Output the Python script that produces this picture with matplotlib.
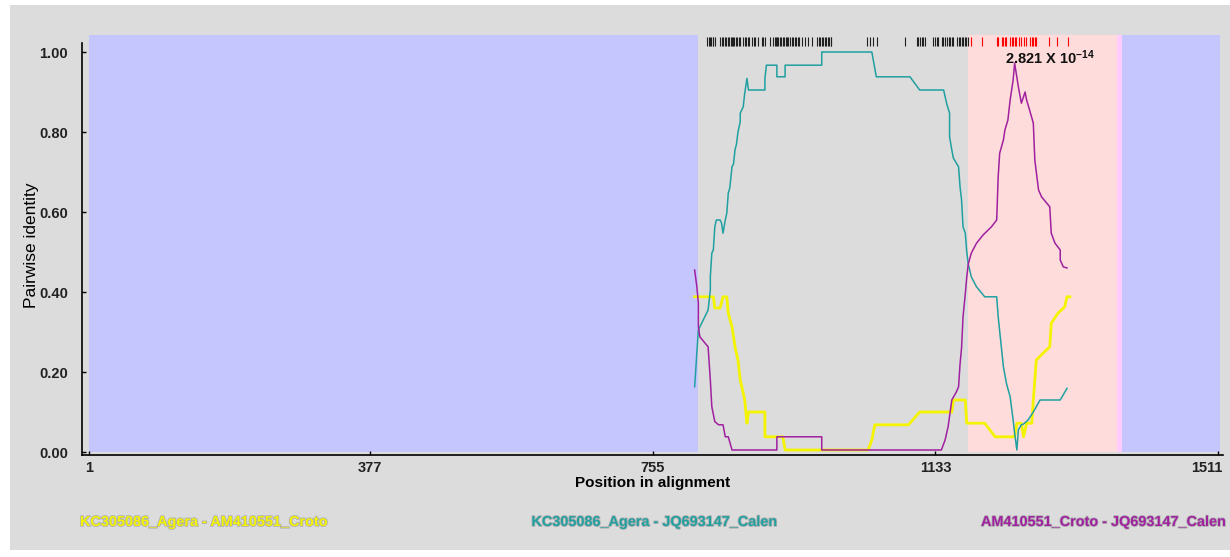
import matplotlib
matplotlib.use("Agg")
import matplotlib.pyplot as plt
from matplotlib.patches import Rectangle
import matplotlib.patheffects as pe
import matplotlib.transforms as mtransforms

plt.rcParams['font.family'] = ['Liberation Sans', 'DejaVu Sans']
plt.rcParams['mathtext.fontset'] = 'custom'
plt.rcParams['mathtext.bf'] = 'Liberation Sans:bold'
plt.rcParams['mathtext.rm'] = 'Liberation Sans:bold'
plt.rcParams['mathtext.default'] = 'bf'

# pairwise identity traces: (position in alignment, identity)
agera_croto = [(811, 0.388), (829, 0.388), (836, 0.388), (838, 0.36), (845, 0.36),
               (849, 0.388), (854, 0.388), (856, 0.347), (861, 0.313), (865, 0.263),
               (869, 0.23), (872, 0.18), (876, 0.147), (878, 0.13), (881, 0.072),
               (883, 0.10), (905, 0.10), (905, 0.038), (929, 0.038), (932, 0.005),
               (1043, 0.005), (1048, 0.03), (1052, 0.068), (1097, 0.068), (1112, 0.10),
               (1155, 0.10), (1157, 0.13), (1173, 0.13), (1175, 0.072), (1199, 0.072),
               (1213, 0.038), (1239, 0.038), (1242, 0.072), (1248, 0.072), (1251, 0.038),
               (1255, 0.072), (1262, 0.072), (1264, 0.13), (1266, 0.18), (1268, 0.23),
               (1277, 0.247), (1286, 0.263), (1288, 0.322), (1297, 0.347), (1306, 0.363),
               (1309, 0.388), (1313, 0.388)]

agera_calen = [(811, 0.163), (812, 0.19), (814, 0.25), (816, 0.305), (829, 0.355),
               (832, 0.405), (832, 0.438), (834, 0.497), (836, 0.505), (838, 0.563),
               (840, 0.58), (845, 0.58), (847, 0.572), (849, 0.547), (852, 0.58),
               (854, 0.597), (856, 0.647), (858, 0.66), (861, 0.713), (863, 0.72),
               (865, 0.755), (867, 0.77), (869, 0.80), (872, 0.826), (872, 0.847),
               (876, 0.863), (878, 0.897), (881, 0.934), (883, 0.905), (905, 0.905),
               (905, 0.934), (907, 0.967), (921, 0.967), (921, 0.938), (932, 0.938),
               (932, 0.967), (981, 0.967), (981, 1.0), (1048, 1.0), (1054, 0.938),
               (1099, 0.938), (1112, 0.905), (1144, 0.905), (1148, 0.872), (1152, 0.847),
               (1152, 0.788), (1155, 0.755), (1157, 0.735), (1164, 0.713), (1166, 0.663),
               (1168, 0.63), (1170, 0.563), (1173, 0.547), (1175, 0.50), (1177, 0.47),
               (1181, 0.438), (1188, 0.413), (1199, 0.388), (1215, 0.388), (1217, 0.338),
               (1224, 0.213), (1228, 0.172), (1233, 0.138), (1237, 0.08), (1239, 0.047),
               (1242, 0.005), (1244, 0.055), (1248, 0.068), (1251, 0.07), (1257, 0.08),
               (1264, 0.10), (1273, 0.13), (1300, 0.13), (1309, 0.159)]

croto_calen = [(811, 0.455), (814, 0.413), (816, 0.372), (816, 0.313), (818, 0.288),
               (825, 0.272), (829, 0.263), (832, 0.18), (834, 0.113), (838, 0.076),
               (843, 0.068), (849, 0.068), (852, 0.038), (856, 0.038), (861, 0.005),
               (921, 0.005), (921, 0.038), (981, 0.038), (981, 0.005), (1141, 0.005),
               (1146, 0.03), (1150, 0.063), (1155, 0.13), (1161, 0.15), (1164, 0.163),
               (1166, 0.22), (1168, 0.26), (1170, 0.338), (1173, 0.395), (1175, 0.438),
               (1177, 0.47), (1181, 0.497), (1188, 0.522), (1197, 0.543), (1208, 0.563),
               (1215, 0.58), (1217, 0.688), (1219, 0.747), (1224, 0.78), (1226, 0.805),
               (1230, 0.83), (1233, 0.88), (1237, 0.93), (1239, 0.972), (1244, 0.913),
               (1248, 0.872), (1253, 0.90), (1255, 0.88), (1259, 0.855), (1264, 0.822),
               (1266, 0.73), (1271, 0.655), (1275, 0.638), (1286, 0.613), (1288, 0.547),
               (1293, 0.522), (1300, 0.505), (1300, 0.48), (1304, 0.463), (1309, 0.46)]

series_names = ["KC305086_Agera - AM410551_Croto",
                "KC305086_Agera - JQ693147_Calen",
                "AM410551_Croto - JQ693147_Calen"]
series_colors = ["#f4f400", "#20a0a0", "#a020a0"]
series_widths = [2.0, 1.1, 1.1]

# informative sites along the top
black_sites = [827, 830, 832, 833, 835, 836, 838, 845, 847, 849, 851, 853, 855, 857,
               859, 861, 862, 864, 866, 868, 870, 872, 876, 878, 880, 882, 884, 888,
               890, 892, 896, 901, 903, 905, 912, 916, 918, 920, 921, 923, 925, 927,
               929, 931, 933, 934, 936, 938, 941, 943, 945, 947, 949, 951, 954, 959,
               963, 968, 975, 977, 979, 981, 983, 985, 987, 989, 991, 993, 994, 1041,
               1046, 1050, 1055, 1093, 1108, 1110, 1112, 1115, 1117, 1119, 1130, 1133,
               1135, 1137, 1142, 1143, 1146, 1148, 1151, 1153, 1155, 1157, 1162, 1164,
               1166, 1168, 1170, 1172, 1174, 1176]
red_sites = [1180, 1195, 1215, 1217, 1222, 1224, 1226, 1228, 1233, 1235, 1237, 1239,
             1241, 1245, 1248, 1252, 1254, 1260, 1262, 1264, 1266, 1268, 1285, 1296, 1310]

# background regions: (start, end, colour)
regions = [(1, 816, "#c6c6ff"), (816, 1177, "#dcdcdc"), (1177, 1376, "#ffdcdc"),
           (1376, 1383, "#ffccff"), (1383, 1514, "#c6c6ff")]

p_value = r"2.821 X 10$^{-14}$"
x_ticks = [1, 377, 755, 1133, 1511]
y_ticks = [0.0, 0.2, 0.4, 0.6, 0.8, 1.0]

fig = plt.figure(figsize=(12.3, 5.57), dpi=100, facecolor="white")
fig.add_artist(Rectangle((10 / 1230, 7 / 557), 1220 / 1230, 545 / 557,
                         transform=fig.transFigure, facecolor="#dcdcdc",
                         edgecolor="none", zorder=-10))
ax = fig.add_axes([82 / 1230, 102 / 557, 1141 / 1230, 420 / 557])
ax.set_facecolor("none")

ylo, yhi = -0.0075, 1.0425
ax.set_xlim(-8.4, 1517.7)
ax.set_ylim(ylo, yhi)

span_bottom = (0 - ylo) / (yhi - ylo)
for start, end, colour in regions:
    ax.axvspan(start, end, ymin=span_bottom, ymax=1, facecolor=colour,
               edgecolor="none", zorder=0)

ax.vlines(black_sites, 1.015, 1.038, colors="#202020", linewidth=0.8, zorder=2)
ax.vlines(red_sites, 1.015, 1.038, colors="#ff0000", linewidth=0.8, zorder=2)

for data, colour, lw in zip([agera_croto, agera_calen, croto_calen],
                            series_colors, series_widths):
    xs = [p for p, _ in data]
    ys = [v for _, v in data]
    ax.plot(xs, ys, color=colour, linewidth=lw, zorder=3)

ax.text(1226, 0.985, p_value, fontsize=10.5, fontweight="bold", ha="left",
        va="center", color="#111111", zorder=4)

for side in ["top", "right"]:
    ax.spines[side].set_visible(False)
ax.spines["left"].set_bounds(ylo, 1.022)
for side in ["left", "bottom"]:
    ax.spines[side].set_linewidth(1.2)

ax.set_xticks(x_ticks)
ax.set_xticklabels([str(t) for t in x_ticks])
ax.set_yticks(y_ticks)
ax.set_yticklabels(["%.2f" % t for t in y_ticks])
ax.tick_params(axis="both", direction="in", length=3, width=1)
ax.tick_params(axis="y", pad=10, labelsize=10.5)
ax.tick_params(axis="x", pad=4, labelsize=10.5)
for lab in ax.get_xticklabels() + ax.get_yticklabels():
    lab.set_fontweight("bold")
    lab.set_color("#222222")

# keep the last position label inside the figure
last = ax.get_xticklabels()[-1]
last.set_horizontalalignment("right")
last.set_transform(last.get_transform() +
                   mtransforms.ScaledTranslation(5 / 100, 0, fig.dpi_scale_trans))

ax.set_xlabel("Position in alignment", fontsize=11, fontweight="bold", labelpad=1)
ax.set_ylabel("Pairwise identity", fontsize=12.5, labelpad=0)

shadow = [pe.withStroke(linewidth=1.2, foreground="#b0b0b0")]
label_pos = [(80 / 1230, "left"), (654 / 1230, "center"), (1225 / 1230, "right")]
for name, colour, (xf, ha) in zip(series_names, series_colors, label_pos):
    fig.text(xf, 35 / 557, name, color=colour, fontsize=10.4, fontweight="bold",
             ha=ha, va="center", path_effects=shadow)

fig.savefig("out.png", dpi=100, facecolor=fig.get_facecolor())
